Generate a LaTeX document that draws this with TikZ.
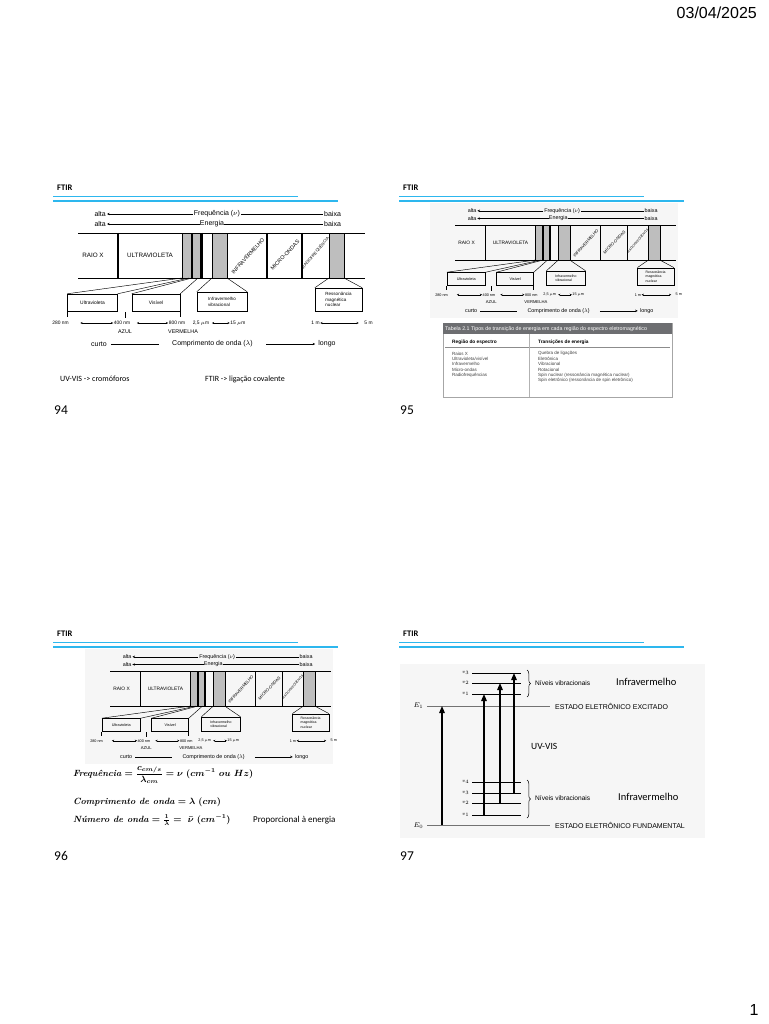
\documentclass[tikz,border=0pt]{standalone}
\usepackage{fontspec}
\usepackage{amsmath}
\newfontfamily\carlito{Carlito}
\newfontfamily\arialf{Liberation Sans}
\usetikzlibrary{arrows.meta,decorations.pathreplacing}
\definecolor{ftirblue}{HTML}{2DB7EE}
\definecolor{tblhead}{HTML}{6D6E71}
\definecolor{bandgray}{HTML}{BEBEBE}
\definecolor{imgbg}{HTML}{F6F6F6}
\newcommand\fz[2]{\fontsize{#1}{#2}\selectfont}
\newcommand\bfit[1]{{\bfseries\itshape #1}}
\newsavebox\fAbox
\newsavebox\fBbox
\newsavebox\fCbox
\tikzset{
  sline/.style={line width=0.45pt},
  tipl/.style={-{Stealth[length=2.6pt,width=2.4pt]}},
  dbl/.style={{Stealth[length=2.2pt,width=2pt]}-{Stealth[length=2.2pt,width=2pt]}},
  spA/.style={font=\arialf\fz{7}{8}, inner sep=1pt},
  spB/.style={font=\arialf\fz{6.3}{7}, inner sep=0.5pt},
  spC/.style={font=\arialf\fz{5.4}{6}, inner sep=0.5pt},
  spD/.style={font=\arialf\fz{4.9}{5.6}, inner sep=0.5pt},
  spE/.style={font=\arialf\fz{4.5}{5.8}, inner sep=0.5pt},
  spF/.style={font=\arialf\fz{4.1}{5}, inner sep=0.5pt},
  ftirt/.style={font=\carlito\bfseries\fz{8.5}{10}, anchor=west, inner sep=0pt},
  bl1/.style={draw=ftirblue, line width=0.8pt},
  bl2/.style={draw=ftirblue, line width=1.1pt},
  pnum/.style={font=\carlito\fz{13.5}{15}, anchor=west, inner sep=0pt},
  cal/.style={font=\carlito\fz{8}{9.5}, anchor=west, inner sep=0pt},
  tbl/.style={font=\arialf\fz{4.5}{5}, anchor=west, inner sep=0pt, text=black!75},
  tblb/.style={font=\arialf\bfseries\fz{4.8}{5}, anchor=west, inner sep=0pt},
  eline/.style={draw=black!55, line width=0.6pt},
  vline/.style={draw=black, line width=0.55pt},
  vlab/.style={font=\rmfamily\fz{5.5}{6}, anchor=east, inner sep=0.5pt},
  elab/.style={font=\rmfamily\fz{7}{8}, anchor=east, inner sep=0.5pt},
  estado/.style={font=\arialf\fz{7}{8}, anchor=west, inner sep=0pt},
  niveis/.style={font=\arialf\fz{6.6}{7}, anchor=west, inner sep=0pt},
  irtxt/.style={font=\carlito\fz{10.5}{12}, anchor=west, inner sep=0pt},
  bigarrow/.style={line width=1.3pt, -{Triangle[length=7pt,width=5.5pt]}},
  brc/.style={decorate, decoration={brace, amplitude=3.5pt}, line width=0.5pt},
  fml/.style={anchor=west, inner sep=0pt}
}
\newcommand\slidehead[3]{%
  \node[ftirt] (#1ft) at (#2+4,#3) {FTIR};
  \coordinate (#1l1a) at (#2,#3+8);  \coordinate (#1l1b) at (#2+245,#3+8);
  \coordinate (#1l2a) at (#2,#3+13); \coordinate (#1l2b) at (#2+285,#3+13);
  \draw[bl1] (#1l1a) -- (#1l1b);
  \draw[bl2] (#1l2a) -- (#1l2b);
}
\newcommand\drawspectrum[1]{%
  \node[spA,anchor=east] (#1a1) at (107,214) {alta};
  \node[spA] (#1f) at (217,214) {Frequência ($\nu$)};
  \node[spA,anchor=west] (#1b1) at (323,214) {baixa};
  \draw[sline,tipl] (#1f.west) -- (#1a1.east);
  \draw[sline] (#1f.east) -- (#1b1.west);
  \node[spA,anchor=east] (#1a2) at (107,224) {alta};
  \node[spA,inner sep=0pt] (#1e) at (212,224) {Energia};
  \node[spA,anchor=west] (#1b2) at (323,224) {baixa};
  \draw[sline,tipl] (#1e.west) -- (#1a2.east);
  \draw[sline] (#1e.east) -- (#1b2.west);
  \foreach \xa/\xb in {182/191,192/200,212/227,329/344}
    \filldraw[fill=bandgray,draw=black,line width=0.3pt] (\xa,233) rectangle (\xb,278);
  \draw[sline] (78,233) -- (365,233);
  \draw[sline] (78,278) -- (365,278);
  \foreach \xx in {118,202,267,302}
    \draw[line width=1.1pt] (\xx,233) -- (\xx,278);
  \node[spB] (#1rx) at (93,255) {RAIO X};
  \node[spB] (#1uvt) at (150,255) {ULTRAVIOLETA};
  \node[spC,rotate=48] (#1irt) at (248,256) {INFRAVERMELHO};
  \node[spC,rotate=46] (#1mo) at (285,255) {MICRO-ONDAS};
  \node[spF,rotate=50] (#1rf) at (315.5,253) {RADIOFREQUÊNCIA};
  \coordinate (#1g1) at (182,278); \coordinate (#1g2) at (189,278);
  \coordinate (#1g3) at (192,278); \coordinate (#1g4) at (198,278);
  \coordinate (#1g5) at (212,278); \coordinate (#1g6) at (227,278);
  \coordinate (#1g7) at (329,278); \coordinate (#1g8) at (344,278);
  \node[draw,sline,spD,minimum width=50,minimum height=17] (#1uvb) at (92.5,302.5) {Ultravioleta};
  \node[draw,sline,spD,minimum width=48,minimum height=17] (#1visb) at (156,302.5) {Visível};
  \node[draw,sline,spE,minimum width=50,minimum height=19,align=left] (#1irb) at (222,301.5) {Infravermelho\\vibracional};
  \node[draw,sline,spE,minimum width=47,minimum height=23,align=left] (#1rmn) at (338.5,299.5) {Ressonância\\magnética\\nuclear};
  \draw[sline] (#1uvb.north west) -- (#1g1);
  \draw[sline] (#1uvb.north east) -- (#1g2);
  \draw[sline] (#1visb.north west) -- (#1g3);
  \draw[sline] (#1visb.north east) -- (#1g4);
  \draw[sline] (#1irb.north west) -- (#1g5);
  \draw[sline] (#1irb.north east) -- (#1g6);
  \draw[sline] (#1rmn.north west) -- (#1g7);
  \draw[sline] (#1rmn.north east) -- (#1g8);
  \draw[sline] (67,312) -- (67,317);
  \draw[sline] (125,312) -- (125,318);
  \draw[sline] (180,312) -- (180,317);
  \node[spD] (#1n280) at (60.5,323) {280 nm};
  \node[spD] (#1n400) at (122,323) {400 nm};
  \node[spD] (#1n800) at (177,323) {800 nm};
  \draw[sline,dbl] ([xshift=11]#1n280.east) -- (#1n400.west);
  \draw[sline,dbl] ([xshift=6]#1n400.east) -- (#1n800.west);
  \node[spD] (#1n25) at (201,323) {2,5 $\mu$m};
  \node[spD] (#1n15) at (238,323) {15 $\mu$m};
  \draw[sline,dbl] ([xshift=2]#1n25.east) -- (#1n15.west);
  \node[spD] (#1n1) at (315.5,323) {1 m};
  \node[spD] (#1n5) at (368.5,323) {5 m};
  \draw[sline,dbl] (#1n1.east) -- ([xshift=-5]#1n5.west);
  \node[spC] (#1azul) at (125,332) {AZUL};
  \node[spC] (#1verm) at (183,332) {VERMELHA};
  \node[spA] (#1curto) at (99,344) {curto};
  \node[spA] (#1comp) at (212.5,344) {Comprimento de onda ($\lambda$)};
  \node[spA] (#1longo) at (327,344) {longo};
  \draw[sline] ([xshift=3]#1curto.east) -- ([xshift=-12]#1comp.west);
  \draw[sline,tipl] ([xshift=12]#1comp.east) -- ([xshift=-2]#1longo.west);
}
\begin{document}
\sbox\fAbox{\fz{9}{11}\boldmath\bfit{Frequência} $=\dfrac{c_{cm/s}}{\lambda_{cm}}=\nu~(cm^{-1}~ou~Hz)$}%
\sbox\fBbox{\fz{9}{11}\boldmath\bfit{Comprimento de onda} $=\lambda~(cm)$}%
\sbox\fCbox{\fz{9}{11}\boldmath\bfit{Número de onda} $=\frac{1}{\lambda}=~\bar{\nu}~(cm^{-1})$}%
\begin{tikzpicture}[x=1pt,y=-1pt]
\useasboundingbox (0,0) rectangle (768,1024);
\fill[white] (0,0) rectangle (768,1024);
\node[font=\arialf\fz{16}{18}, anchor=east, inner sep=0pt] (date) at (757,13) {03/04/2025};
\node[font=\arialf\fz{16}{18}, inner sep=0pt] (pagenum) at (754,1010) {1};

% ===== slide 94 =====
\slidehead{s94}{53}{188}
\drawspectrum{a}
\node[cal] (uvvis94) at (60,379) {UV-VIS -> cromóforos};
\node[cal] (ftir94) at (205,379) {FTIR -> ligação covalente};
\node[pnum] (p94) at (54,410) {94};

% ===== slide 95 =====
\slidehead{s95}{399}{188}
\begin{scope}[shift={(395,46)},scale=0.77,transform shape]
  \fill[imgbg] (45,204) rectangle (368,353);
  \drawspectrum{b}
\end{scope}
\fill[white] (443,323) rectangle (672,397);
\draw[black!35,line width=0.4pt] (443,323) rectangle (672,397);
\fill[tblhead] (443,323) rectangle (672,334);
\node[font=\arialf\fz{5.3}{6}, text=white, anchor=west, inner sep=0pt] (tabt) at (445,329) {Tabela 2.1 Tipos de transição de energia em cada região do espectro eletromagnético};
\node[tblb] (th1) at (452,342) {Região do espectro};
\node[tblb] (th2) at (538,342) {Transições de energia};
\draw[black!45,line width=0.4pt] (445,347) -- (670,347);
\draw[black!30,line width=0.3pt] (529,334) -- (529,397);
\foreach \t [count=\i] in {Raios X,Ultravioleta/visível,Infravermelho,Micro-ondas,Radiofrequências}
  \node[tbl] (tl\i) at (452,348+5.4*\i) {\t};
\foreach \t [count=\i] in {Quebra de ligações,Eletrônica,Vibracional,Rotacional,Spin nuclear (ressonância magnética nuclear),Spin eletrônico (ressonância de spin eletrônico)}
  \node[tbl] (tr\i) at (538,348+5.4*\i) {\t};
\node[pnum] (p95) at (400,410) {95};

% ===== slide 96 =====
\slidehead{s96}{53}{634}
\begin{scope}[shift={(50,492)},scale=0.77,transform shape]
  \fill[imgbg] (45,204) rectangle (368,353);
  \drawspectrum{c}
\end{scope}
\node[fml] (fr1) at (73,775) {\usebox\fAbox};
\node[fml] (fr2) at (73,802) {\usebox\fBbox};
\node[fml] (fr3) at (73,820) {\usebox\fCbox};
\node[font=\carlito\fz{9}{10}, anchor=west, inner sep=0pt] (prop) at (253,820) {Proporcional à energia};
\node[pnum] (p96) at (54,856) {96};

% ===== slide 97 =====
\slidehead{s97}{399}{634}
\fill[imgbg] (400,664) rectangle (705,838);
\coordinate (E1a) at (427,706); \coordinate (E1b) at (550,706);
\coordinate (E0a) at (427,825); \coordinate (E0b) at (550,825);
\draw[eline] (E1a) -- (E1b);
\draw[eline] (E0a) -- (E0b);
\node[elab] (E1l) at (424,706) {$E_1$};
\node[elab] (E0l) at (424,826) {$E_0$};
\node[estado] (E1t) at (555,706) {ESTADO ELETRÔNICO EXCITADO};
\node[estado] (E0t) at (555,825) {ESTADO ELETRÔNICO FUNDAMENTAL};
\foreach \yy/\n in {673/3,683/2,694/1}{
  \coordinate (ua\n) at (472,\yy); \coordinate (ub\n) at (521,\yy);
  \draw[vline] (ua\n) -- (ub\n);
  \node[vlab] (ul\n) at (470,\yy) {$v_{\n}$};
}
\foreach \yy/\n in {782/4,793/3,803/2,815/1}{
  \coordinate (la\n) at (472,\yy); \coordinate (lb\n) at (521,\yy);
  \draw[vline] (la\n) -- (lb\n);
  \node[vlab] (ll\n) at (470,\yy) {$v_{\n}$};
}
\coordinate (t1s) at (442,825); \coordinate (t1e) at (442,706);
\coordinate (t2s) at (484,815); \coordinate (t2e) at (484,694);
\coordinate (t3s) at (500,803); \coordinate (t3e) at (500,683);
\coordinate (t4s) at (514,793); \coordinate (t4e) at (514,673);
\draw[bigarrow] (t1s) -- (t1e);
\draw[bigarrow] (t2s) -- (t2e);
\draw[bigarrow] (t3s) -- (t3e);
\draw[bigarrow] (t4s) -- (t4e);
\coordinate (bu1) at (527,670); \coordinate (bu2) at (527,697);
\coordinate (bl1) at (527,780); \coordinate (bl2) at (527,818);
\draw[brc] (bu1) -- (bu2);
\draw[brc] (bl1) -- (bl2);
\node[niveis] (nvu) at (535,683.5) {Níveis vibracionais};
\node[niveis] (nvl) at (535,798) {Níveis vibracionais};
\node[irtxt] (iru) at (616,682) {Infravermelho};
\node[irtxt] (irl) at (618,797) {Infravermelho};
\node[font=\carlito\fz{9.5}{11}, anchor=west, inner sep=0pt] (uvv97) at (531,746) {UV-VIS};
\node[pnum] (p97) at (400,856) {97};
\end{tikzpicture}
\end{document}
